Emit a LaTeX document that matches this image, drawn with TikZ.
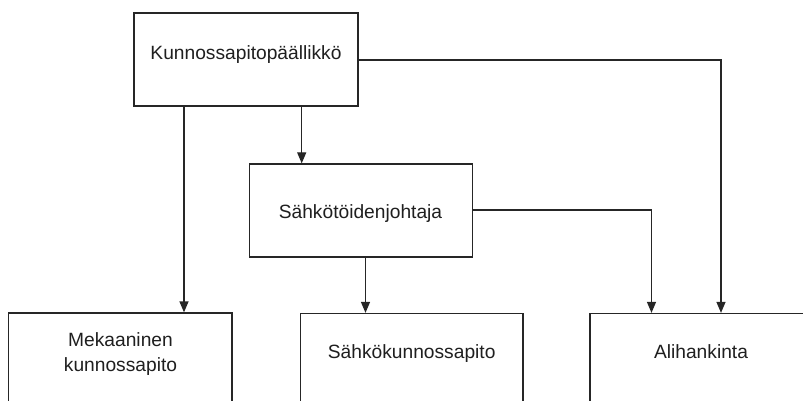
\documentclass[tikz,border=0pt]{standalone}
\usepackage{fontspec}
\setmainfont{Liberation Sans}
\usetikzlibrary{arrows.meta}
\begin{document}
\begin{tikzpicture}[x=1pt,y=-1pt,
  box/.style={draw=black!85, line width=1.25pt, fill=white, rectangle, inner sep=0pt, minimum height=93pt},
  lbl/.style={anchor=base, inner sep=0pt, text=black!88, font=\fontsize{19.2}{25}\selectfont, align=center},
  conn/.style={draw=black!85, line width=1.25pt},
  arr/.style={conn, -{Triangle[length=11pt,width=9pt]}}]
\useasboundingbox (0,0) rectangle (803,401);
\clip (0,0) rectangle (803,401);
% boxes
\node[box, minimum width=224pt] (top) at (246,59.5) {};
\node[box, minimum width=223pt] (mid) at (360.8,210.5) {};
\node[box, minimum width=223.5pt] (mek) at (120.2,359.5) {};
\node[box, minimum width=222.5pt] (sahko) at (411.7,360) {};
\node[box, minimum width=223pt] (ali) at (701.5,360) {};
% labels
\node[lbl] (tt) at (246,60) {Kunnossapitopäällikkö};
\node[lbl] (mt) at (360.5,218.3) {Sähkötöidenjohtaja};
\node[lbl] (mk1) at (120.5,346.7) {Mekaaninen};
\node[lbl] (mk2) at (120.5,371.7) {kunnossapito};
\node[lbl] (st) at (411.7,358.3) {Sähkökunnossapito};
\node[lbl] (at) at (701,358.3) {Alihankinta};
% connector x positions
\coordinate (x1) at (184,0);
\coordinate (x2) at (301.7,0);
\coordinate (x3) at (365.5,0);
\coordinate (x4) at (651.5,0);
\coordinate (x5) at (721,0);
\coordinate (ty) at (0,60);
\coordinate (my) at (0,210);
% connectors
\draw[arr] (top.south -| x1) -- (mek.north -| x1);
\draw[arr] (top.south -| x2) -- (mid.north -| x2);
\draw[arr] (mid.south -| x3) -- (sahko.north -| x3);
\draw[arr] (top.east |- ty) -| (ali.north -| x5);
\draw[arr] (mid.east |- my) -| (ali.north -| x4);
\end{tikzpicture}
\end{document}
